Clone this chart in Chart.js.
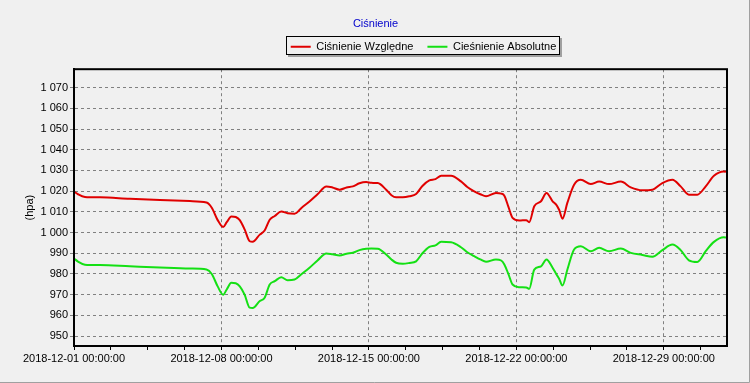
<!DOCTYPE html>
<html>
<head>
<meta charset="utf-8">
<script src="https://cdn.jsdelivr.net/npm/chart.js@4/dist/chart.umd.min.js"></script>
<style>
html, body { margin: 0; padding: 0; background: #f0f0f0; }
</style>
</head>
<body>
<canvas id="CISNIENIE" width="750" height="383"></canvas>
<script>
// dni od 2018-12-01 00:00:00
var dni = [0, 0.19, 0.52, 1.23, 2.65, 4.08, 5.5, 6.29, 6.54, 6.82,
    7.08, 7.25, 7.47, 7.68, 7.87, 8.1, 8.34, 8.48, 8.82, 9.05,
    9.29, 9.53, 9.84, 10.14, 10.47, 10.81, 11.18, 11.56, 11.98, 12.27,
    12.61, 12.94, 13.24, 13.55, 13.87, 14.12, 14.42, 14.82, 15.07, 15.29,
    15.61, 15.92, 16.24, 16.54, 16.87, 17.16, 17.43, 17.9, 18.37, 18.67,
    19.0, 19.29, 19.56, 20.03, 20.28, 20.43, 20.62, 20.82, 21.14, 21.47,
    21.61, 21.85, 22.17, 22.43, 22.72, 22.89, 23.03, 23.19, 23.42, 23.74,
    24.06, 24.53, 24.93, 25.4, 25.96, 26.43, 26.98, 27.46, 27.93, 28.41,
    28.8, 29.19, 29.59, 29.99, 30.38, 30.85, 30.95];
var wzgledne = [1019.8, 1018.5, 1017.2, 1017, 1016.3, 1015.7, 1015.2, 1014.5, 1012, 1006,
    1002.7, 1005, 1007.8, 1007.5, 1006, 1001.5, 995.8, 995.5, 999, 1001,
    1006.2, 1008, 1010.2, 1009.3, 1009.1, 1012, 1015, 1018.5, 1022.3, 1021.8,
    1020.7, 1021.8, 1022.3, 1023.8, 1024.4, 1024, 1023.9, 1020.7, 1018, 1017,
    1017, 1017.5, 1018.6, 1022.5, 1025.2, 1025.8, 1027.4, 1027.4, 1024.7, 1022,
    1019.9, 1018.5, 1017.5, 1019.1, 1018.8, 1017.8, 1012.5, 1007.1, 1005.8, 1006,
    1005, 1012.7, 1015.1, 1019.1, 1015.1, 1013.5, 1011, 1006.7, 1014.3, 1023.1,
    1025.5, 1023.4, 1024.6, 1023.4, 1024.6, 1021.8, 1020.4, 1020.7, 1023.9, 1025.5,
    1022.3, 1018.3, 1018.3, 1022.3, 1027.4, 1029.5, 1029.3];
var absolutne = [987.4, 986, 984.5, 984.3, 983.7, 983.1, 982.6, 982.1, 980, 974,
    970, 972.5, 975.7, 975.5, 974, 970, 963.7, 963.5, 966.9, 968.5,
    974.9, 976.5, 978.4, 977, 977.3, 980, 983, 986.5, 989.9, 989.5,
    988.9, 989.8, 990.2, 991.5, 992.2, 992.3, 992.2, 989.4, 987, 985.4,
    984.9, 985.3, 986.1, 990, 993.1, 993.8, 995.5, 995.3, 992.9, 990.5,
    988.6, 987, 985.9, 987, 986.5, 984.6, 980, 974.9, 973.6, 973.5,
    972.8, 982.1, 983.7, 987, 983, 980, 977.7, 974.4, 982, 991.8,
    993.4, 991, 992.6, 991, 992.3, 990.2, 989.2, 988.3, 991.5, 994.2,
    991.5, 986.6, 985.8, 991, 995.5, 997.7, 997.6];
var xTickLabels = ['2018-12-01 00:00:00', '2018-12-08 00:00:00', '2018-12-15 00:00:00',
    '2018-12-22 00:00:00', '2018-12-29 00:00:00'];
var yTicks = [950, 960, 970, 980, 990, 1000, 1010, 1020, 1030, 1040, 1050, 1060, 1070];

var xMax = 31;
// podzialka x: 4 kreski na tydzien
var xKreski = [];
for (var i = 0; i * 1.75 <= xMax; i++) {
    xKreski.push(i * 1.75);
}

function punkty(arr) {
    return dni.map(function (d, i) { return {x: d, y: arr[i]}; });
}
function czyTydzien(v) {
    var k = v / 7;
    return Math.abs(k - Math.round(k)) < 1e-6;
}

var czcionka = {family: "'Liberation Sans', Arial, sans-serif", size: 11};

// tlo, ramka legendy
var tloPlugin = {
    id: 'tlo',
    beforeInit: function (chart) {
        var fit = chart.legend.fit;
        chart.legend.fit = function () {
            fit.bind(chart.legend)();
            this.height += 8;
        };
    },
    afterLayout: function (chart) {
        // tytul i legenda przesuniete jak w oryginale
        chart.titleBlock.left += 12;
        chart.titleBlock.right += 12;
        chart.titleBlock.top += 4;
        chart.titleBlock.bottom += 4;
        chart.legend.left += 60;
        chart.legend.right += 60;
        chart.legend.top += 1;
        chart.legend.bottom += 1;
    },
    beforeDraw: function (chart) {
        var c = chart.ctx;
        c.save();
        c.fillStyle = '#f0f0f0';
        c.fillRect(0, 0, chart.width, chart.height);
        var hb = chart.legend.legendHitBoxes;
        if (hb && hb.length) {
            var first = hb[0], last = hb[hb.length - 1];
            var x0 = Math.round(first.left) - 5, x1 = Math.round(last.left + last.width) + 4;
            var y0 = Math.round(first.top) - 5, y1 = Math.round(first.top + first.height) + 3;
            c.fillStyle = '#a0a0a0';
            c.fillRect(x0 + 2, y0 + 2, x1 - x0, y1 - y0);
            c.fillStyle = '#f0f0f0';
            c.fillRect(x0, y0, x1 - x0, y1 - y0);
            c.strokeStyle = '#000';
            c.lineWidth = 1;
            c.strokeRect(x0 + 0.5, y0 + 0.5, x1 - x0 - 1, y1 - y0 - 1);
        }
        c.restore();
    },
    afterDraw: function (chart) {
        var c = chart.ctx, a = chart.chartArea;
        c.save();
        c.strokeStyle = '#000';
        c.lineWidth = 2;
        c.strokeRect(a.left, a.top, a.right - a.left, a.bottom - a.top);
        c.strokeStyle = '#a0a0a0';
        c.lineWidth = 1;
        c.beginPath();
        c.moveTo(749.5, 0);
        c.lineTo(749.5, 382.5);
        c.lineTo(0, 382.5);
        c.stroke();
        c.restore();
    }
};

var ctxCisnienie = document.getElementById('CISNIENIE').getContext('2d');
var cisnienie = new Chart(ctxCisnienie, {
    type: 'line',
    data: {
        datasets: [{
            label: 'Ciśnienie Względne',
            data: punkty(wzgledne),
            borderColor: '#e00000',
            backgroundColor: '#e00000',
            borderWidth: 2,
            pointRadius: 0,
            cubicInterpolationMode: 'monotone',
            fill: false
        }, {
            label: 'Cieśnienie Absolutne',
            data: punkty(absolutne),
            borderColor: '#14e014',
            backgroundColor: '#14e014',
            borderWidth: 2,
            pointRadius: 0,
            cubicInterpolationMode: 'monotone',
            fill: false
        }]
    },
    options: {
        responsive: false,
        animation: false,
        layout: {padding: {top: 0, right: 23, bottom: 0, left: 0}},
        plugins: {
            title: {
                display: true,
                text: 'Ciśnienie',
                color: '#0000cc',
                font: {family: czcionka.family, size: 11, weight: 'normal'},
                padding: {top: 13, bottom: 0}
            },
            legend: {
                display: true,
                labels: {
                    color: '#000',
                    font: czcionka,
                    usePointStyle: true,
                    pointStyle: 'line',
                    pointStyleWidth: 20,
                    padding: 14
                }
            },
            tooltip: {enabled: false}
        },
        scales: {
            x: {
                type: 'linear',
                min: 0,
                max: xMax,
                afterBuildTicks: function (s) {
                    s.ticks = xKreski.map(function (v) { return {value: v}; });
                },
                afterFit: function (s) { s.height = 37; },
                ticks: {
                    autoSkip: false,
                    maxRotation: 0,
                    minRotation: 0,
                    padding: 2,
                    color: '#000',
                    font: czcionka,
                    callback: function (v) {
                        return czyTydzien(v) ? xTickLabels[Math.round(v / 7)] : '';
                    }
                },
                grid: {
                    color: function (c) {
                        return c.tick && c.tick.value > 0 && czyTydzien(c.tick.value) ? '#808080' : 'rgba(0,0,0,0)';
                    },
                    tickColor: '#000',
                    tickLength: 4,
                    lineWidth: 1
                },
                border: {display: true, color: '#000', width: 2, dash: [3, 3]}
            },
            y: {
                min: 945.2,
                max: 1078.9,
                afterBuildTicks: function (s) {
                    s.ticks = yTicks.map(function (v) { return {value: v}; });
                },
                afterFit: function (s) { s.width = 74; },
                ticks: {
                    padding: 2,
                    color: '#000',
                    font: czcionka,
                    callback: function (v) {
                        return String(v).replace(/\B(?=(\d{3})+(?!\d))/g, ' ');
                    }
                },
                grid: {color: '#808080', tickColor: '#808080', tickLength: 4, lineWidth: 1},
                border: {display: true, color: '#000', width: 2, dash: [3, 3]},
                title: {
                    display: true,
                    text: '(hpa)',
                    color: '#000',
                    font: czcionka,
                    padding: {top: 23, bottom: 0}
                }
            }
        }
    },
    plugins: [tloPlugin]
});
</script>
</body>
</html>
